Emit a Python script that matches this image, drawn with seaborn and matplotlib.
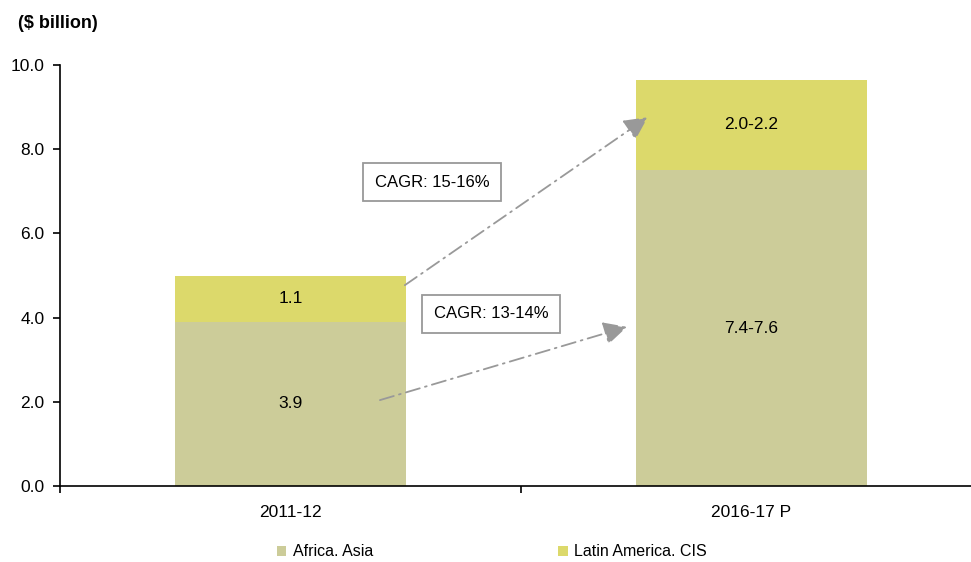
import matplotlib
matplotlib.use('Agg')
import matplotlib.pyplot as plt
import seaborn as sns
import pandas as pd

sns.set_style('white')
plt.rcParams['font.family'] = ['Liberation Sans', 'DejaVu Sans']
plt.rcParams['text.color'] = 'black'
plt.rcParams['xtick.color'] = 'black'
plt.rcParams['ytick.color'] = 'black'

# data
years = ['2011-12', '2016-17 P']
africa_asia = [3.9, 7.5]
latin_cis = [1.1, 2.15]
africa_labels = ['3.9', '7.4-7.6']
latin_labels = ['1.1', '2.0-2.2']
cagr_labels = ['CAGR: 15-16%', 'CAGR: 13-14%']

c_africa = '#cccc99'
c_latin = '#dcd96b'

df = pd.DataFrame({'year': years, 'africa': africa_asia, 'latin': latin_cis})
df['total'] = df['africa'] + df['latin']

fig = plt.figure(figsize=(9.71, 5.62), dpi=100)
ax = fig.add_axes([60/971, 76/562, 922/971, 421/562])

sns.barplot(data=df, x='year', y='total', color=c_latin, width=0.5,
            saturation=1, linewidth=0, ax=ax, label='Latin America. CIS')
sns.barplot(data=df, x='year', y='africa', color=c_africa, width=0.5,
            saturation=1, linewidth=0, ax=ax, label='Africa. Asia')

for i in range(len(years)):
    ax.text(i, df['africa'][i] / 2, africa_labels[i], ha='center', va='center', fontsize=12.5)
    ax.text(i, df['africa'][i] + df['latin'][i] / 2, latin_labels[i],
            ha='center', va='center', fontsize=12.5)

# CAGR arrows
arrow_kw = dict(arrowstyle='-|>,head_length=0.9,head_width=0.45', color='#999999', lw=1.3,
                linestyle=(0, (8, 3, 1, 3)), mutation_scale=16, shrinkA=0, shrinkB=0)
ax.annotate('', xy=(0.775, 8.76), xytext=(0.248, 4.77), arrowprops=arrow_kw)
ax.annotate('', xy=(0.73, 3.78), xytext=(0.194, 2.04), arrowprops=arrow_kw)

box = dict(boxstyle='square,pad=0.7', fc='white', ec='#999999', lw=1.3)
ax.text(0.307, 7.22, cagr_labels[0], ha='center', va='center', fontsize=12, bbox=box)
ax.text(0.435, 4.09, cagr_labels[1], ha='center', va='center', fontsize=12, bbox=box)

ax.set_xlim(-0.5, 1.5)
ax.set_ylim(0, 10)
ax.set_yticks([0, 2, 4, 6, 8, 10])
ax.set_yticklabels(['0.0', '2.0', '4.0', '6.0', '8.0', '10.0'], fontsize=12.5)
ax.set_xticks([0, 1])
ax.set_xticklabels(years, fontsize=12.5)
ax.tick_params(axis='x', length=0, pad=14)
ax.tick_params(axis='y', length=5, direction='out', width=1.2, left=True, pad=6)
ax.set_xticks([-0.5, 0.5, 1.5], minor=True)
ax.tick_params(axis='x', which='minor', length=5, width=1.2, direction='out', bottom=True)
ax.set_xlabel('')
ax.set_ylabel('')
for s in ['top', 'right']:
    ax.spines[s].set_visible(False)
for s in ['left', 'bottom']:
    ax.spines[s].set_color('black')
    ax.spines[s].set_linewidth(1.2)

fig.text(18/971, 1 - 24/562, '($ billion)', fontsize=13, fontweight='bold', va='center')

handles, labels = ax.get_legend_handles_labels()
order = [labels.index('Africa. Asia'), labels.index('Latin America. CIS')]
ax.legend([handles[k] for k in order], [labels[k] for k in order],
          loc='center', bbox_to_anchor=(492/971, 10/562), bbox_transform=fig.transFigure,
          ncol=2, frameon=False, fontsize=11.5, handlelength=0.6, handleheight=0.6,
          handletextpad=0.4, columnspacing=11.6)

fig.savefig('out.png', dpi=100)
